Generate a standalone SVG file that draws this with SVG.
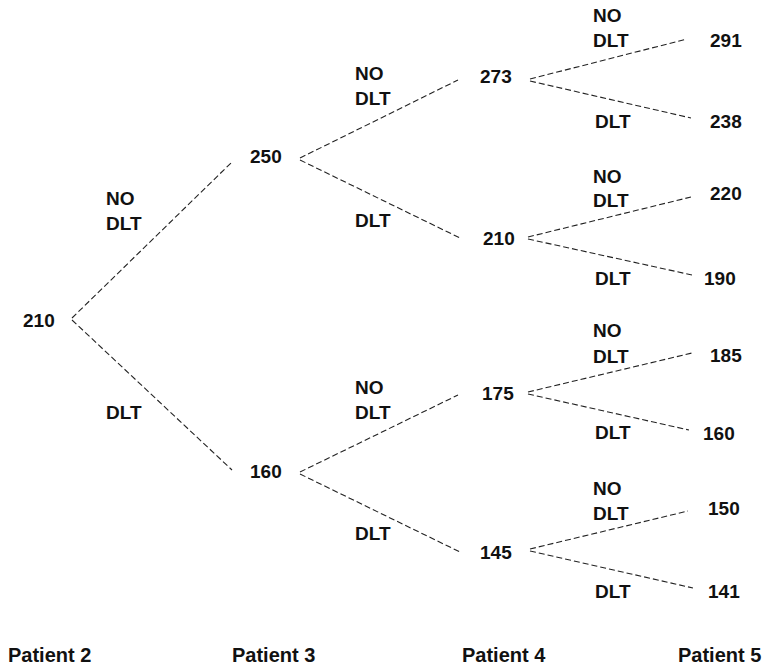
<svg xmlns="http://www.w3.org/2000/svg" width="770" height="669" viewBox="0 0 770 669">
<style>
text{font-family:"Liberation Sans",Arial,sans-serif;font-weight:bold;font-size:19px;fill:#111}
.p{font-size:20px}
.c line{stroke:#222;stroke-width:1.1;stroke-dasharray:6 3;fill:none}
</style>
<rect width="770" height="669" fill="#fff"/>
<g class="c" id="connectors">
<line x1="72" y1="318" x2="232" y2="162"/>
<line x1="72" y1="320" x2="232" y2="470"/>
<line x1="300" y1="158" x2="458" y2="80"/>
<line x1="300" y1="160" x2="460" y2="238"/>
<line x1="300" y1="472" x2="458" y2="395"/>
<line x1="300" y1="474" x2="460" y2="552"/>
<line x1="530" y1="79" x2="687" y2="39"/>
<line x1="530" y1="81" x2="691" y2="118"/>
<line x1="528" y1="237" x2="691" y2="197"/>
<line x1="528" y1="239" x2="692" y2="275"/>
<line x1="528" y1="392" x2="692" y2="353"/>
<line x1="528" y1="394" x2="689" y2="430"/>
<line x1="530" y1="549" x2="688" y2="511"/>
<line x1="530" y1="551" x2="693" y2="588"/>
</g>
<g id="labels">
<text x="106" y="205">NO</text><text x="106" y="230">DLT</text>
<text x="106" y="419">DLT</text>
<text x="355" y="80">NO</text><text x="355" y="105">DLT</text>
<text x="355" y="227">DLT</text>
<text x="355" y="394">NO</text><text x="355" y="419">DLT</text>
<text x="355" y="540">DLT</text>
<text x="593" y="22">NO</text><text x="593" y="47">DLT</text>
<text x="595" y="128">DLT</text>
<text x="593" y="183">NO</text><text x="593" y="207">DLT</text>
<text x="595" y="285">DLT</text>
<text x="593" y="337">NO</text><text x="593" y="363">DLT</text>
<text x="595" y="439">DLT</text>
<text x="593" y="495">NO</text><text x="593" y="520">DLT</text>
<text x="595" y="598">DLT</text>
</g>
<g id="n210a"><text x="23" y="327">210</text></g>
<g id="n250"><text x="250" y="163">250</text></g>
<g id="n160a"><text x="250" y="478">160</text></g>
<g id="n273"><text x="480" y="83">273</text></g>
<g id="n210b"><text x="483" y="245">210</text></g>
<g id="n175"><text x="482" y="400">175</text></g>
<g id="n145"><text x="480" y="559">145</text></g>
<g id="n291"><text x="710" y="47">291</text></g>
<g id="n238"><text x="710" y="128">238</text></g>
<g id="n220"><text x="710" y="200">220</text></g>
<g id="n190"><text x="704" y="285">190</text></g>
<g id="n185"><text x="710" y="362">185</text></g>
<g id="n160b"><text x="703" y="440">160</text></g>
<g id="n150"><text x="708" y="515">150</text></g>
<g id="n141"><text x="708" y="598">141</text></g>
<g id="axis">
<text class="p" x="8" y="662">Patient 2</text>
<text class="p" x="232" y="662">Patient 3</text>
<text class="p" x="462" y="662">Patient 4</text>
<text class="p" x="678" y="662">Patient 5</text>
</g>
</svg>
